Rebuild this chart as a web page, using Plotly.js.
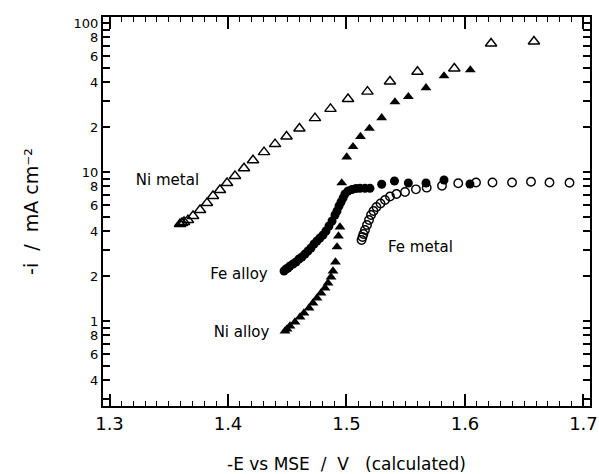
<!DOCTYPE html>
<html>
<head>
<meta charset="utf-8">
<script src="https://cdn.plot.ly/plotly-3.0.1.min.js"></script>
<style>
  html, body { margin: 0; padding: 0; background: #fff; }
  #chart { width: 599px; height: 474px; }
</style>
</head>
<body>
<div id="chart"></div>
<script>
// Polarisation curves: current density (log) against -E vs MSE
const niMetalE = [1.3595, 1.3612, 1.3629, 1.3662, 1.3705, 1.3764, 1.3823, 1.3873, 1.3932, 1.3992,
                  1.4059, 1.4135, 1.4211, 1.4304, 1.4397, 1.4494, 1.4603, 1.4734, 1.4865, 1.5013,
                  1.5177, 1.5367, 1.5599, 1.5910, 1.6220, 1.6582];
const niMetalI = [4.48, 4.55, 4.62, 4.76, 5.07, 5.56, 6.19, 6.90, 7.57, 8.44,
                  9.40, 10.6, 12.0, 13.6, 15.4, 17.3, 19.6, 23.0, 26.5, 30.9,
                  34.6, 40.5, 47.1, 49.5, 72.8, 75.1];

const niAlloyE = [1.4481, 1.4498, 1.4523, 1.4565, 1.4608, 1.4641, 1.4684, 1.4717, 1.4751, 1.4785,
                  1.4819, 1.4844, 1.4869, 1.4886, 1.4907, 1.4920, 1.4932, 1.4945, 1.4960, 1.5002,
                  1.5055, 1.5118, 1.5194, 1.5297, 1.5409, 1.5522, 1.5671, 1.5823, 1.6045];
const niAlloyI = [0.857, 0.884, 0.926, 0.985, 1.064, 1.131, 1.222, 1.321, 1.427, 1.541,
                  1.665, 1.799, 1.974, 2.165, 2.489, 3.14, 3.72, 4.27, 8.44, 12.6,
                  14.8, 17.3, 19.6, 23.1, 29.5, 32.0, 36.7, 44.1, 48.4];

const feAlloyE = [1.4473, 1.4490, 1.4506, 1.4523, 1.4549, 1.4574, 1.4599, 1.4624, 1.4650, 1.4675,
                  1.4700, 1.4726, 1.4751, 1.4776, 1.4802, 1.4827, 1.4852, 1.4878, 1.4903, 1.4920,
                  1.4937, 1.4954, 1.4971, 1.4987, 1.5013, 1.5046, 1.5080, 1.5114, 1.5156, 1.5198,
                  1.5297, 1.5405, 1.5522, 1.5671, 1.5823, 1.6042];
const feAlloyI = [2.165, 2.234, 2.269, 2.339, 2.413, 2.489, 2.607, 2.689, 2.817, 2.950,
                  3.090, 3.287, 3.443, 3.606, 3.777, 4.018, 4.341, 4.690, 5.144, 5.472,
                  5.913, 6.291, 6.69, 7.12, 7.46, 7.63, 7.75, 7.77, 7.77, 7.77,
                  8.27, 8.70, 8.44, 8.44, 8.84, 8.31];

const feMetalE = [1.5127, 1.5135, 1.5143, 1.5156, 1.5173, 1.5190, 1.5207, 1.5228, 1.5253, 1.5287,
                  1.5325, 1.5367, 1.5422, 1.5494, 1.5586, 1.5677, 1.5806, 1.5943, 1.6093, 1.6232,
                  1.6397, 1.6557, 1.6713, 1.6882];
const feMetalI = [3.497, 3.663, 3.836, 4.08, 4.41, 4.76, 5.144, 5.472, 5.82, 6.146,
                  6.49, 6.85, 7.12, 7.34, 7.65, 7.85, 8.08, 8.40, 8.50, 8.50,
                  8.50, 8.61, 8.50, 8.48];

// Curve labels
const labelText = ['Ni metal', 'Fe alloy', 'Ni alloy', 'Fe metal'];
const labelE = [1.3489, 1.4093, 1.4114, 1.5624];
const labelI = [8.635, 2.036, 0.831, 3.066];

// Axis ticks
const xTickVals = [1.3, 1.4, 1.5, 1.6, 1.7];
const xTickText = ['1.3', '1.4', '1.5', '1.6', '1.7'];
const yTickVals = [0.3, 0.4, 0.5, 0.6, 0.7, 0.8, 0.9, 1,
                   2, 3, 4, 5, 6, 7, 8, 9, 10,
                   20, 30, 40, 50, 60, 70, 80, 90, 100];
const yTickText = ['', '4', '', '6', '', '8', '', '1',
                   '2', '', '4', '', '6', '', '8', '', '10',
                   '2', '', '4', '', '6', '', '8', '', '100'];

const FONT = 'DejaVu Sans, Liberation Sans, Arial, sans-serif';
const NB = '\u00a0';

const traces = [
  { x: niMetalE, y: niMetalI, mode: 'markers', name: 'Ni metal',
    marker: { symbol: 'triangle-up-open', size: 10, color: '#000', line: { width: 1.4, color: '#000' } } },
  { x: feMetalE, y: feMetalI, mode: 'markers', name: 'Fe metal',
    marker: { symbol: 'circle-open', size: 8.5, color: '#000', line: { width: 1.4, color: '#000' } } },
  { x: feAlloyE, y: feAlloyI, mode: 'markers', name: 'Fe alloy',
    marker: { symbol: 'circle', size: 9, color: '#000' } },
  { x: niAlloyE, y: niAlloyI, mode: 'markers', name: 'Ni alloy',
    marker: { symbol: 'triangle-up', size: 9.5, color: '#000' } },
  { x: labelE, y: labelI, text: labelText, mode: 'text', name: 'labels',
    textposition: 'middle center', textfont: { size: 15, color: '#000' }, hoverinfo: 'skip' }
];

const layout = {
  width: 599, height: 474,
  margin: { l: 103, r: 9, t: 17, b: 68 },
  paper_bgcolor: '#fff', plot_bgcolor: '#fff',
  showlegend: false,
  font: { family: FONT, color: '#000' },
  xaxis: {
    range: [1.29451, 1.7055], autorange: false,
    tickmode: 'array', tickvals: xTickVals, ticktext: xTickText,
    ticks: 'inside', ticklen: 12, tickwidth: 1.5, tickcolor: '#000',
    minor: { dtick: 0.01, tick0: 1.3, ticks: 'inside', ticklen: 5, tickwidth: 1, tickcolor: '#000' },
    showline: true, linewidth: 2, linecolor: '#000', mirror: 'ticks',
    showgrid: false, zeroline: false,
    tickfont: { size: 18 },
    title: { text: '-E vs MSE' + NB + NB + '/' + NB + NB + 'V' + NB + NB + NB + '(calculated)', font: { size: 17 }, standoff: 26 }
  },
  yaxis: {
    type: 'log', range: [-0.570, 2.040], autorange: false,
    tickmode: 'array', tickvals: yTickVals, ticktext: yTickText,
    ticks: 'inside', ticklen: 7, tickwidth: 1.5, tickcolor: '#000',
    showline: true, linewidth: 2, linecolor: '#000', mirror: 'ticks',
    showgrid: false, zeroline: false,
    tickfont: { size: 13 },
    title: { text: '-i' + NB + NB + '/' + NB + NB + 'mA cm\u207b\u00b2', font: { size: 19 }, standoff: 30 }
  }
};

Plotly.newPlot('chart', traces, layout, { displayModeBar: false });
</script>
</body>
</html>
